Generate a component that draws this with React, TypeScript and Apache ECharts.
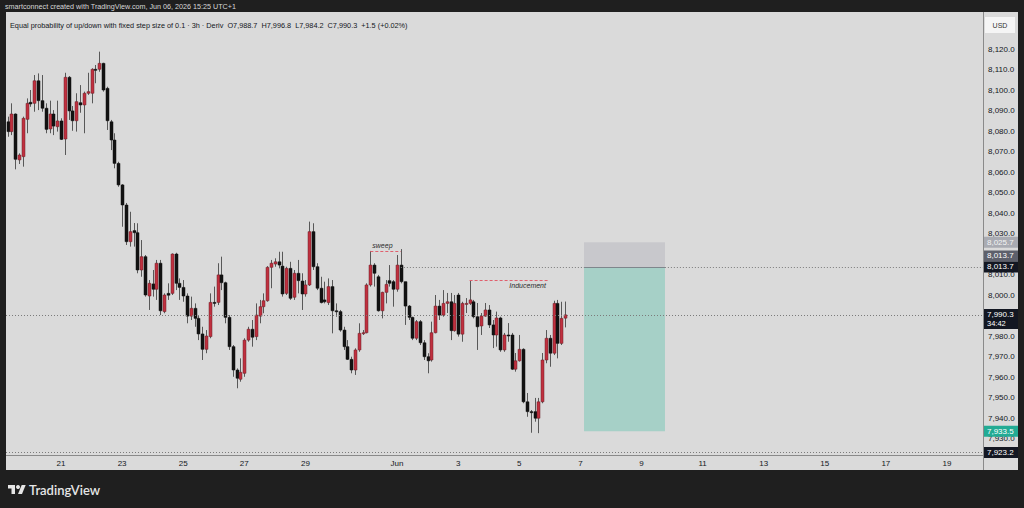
import React, { useEffect, useRef } from "react";
import * as echarts from "echarts";

// ---- data ----
// 3h bars of "Equal probability of up/down with fixed step size of 0.1" (Deriv)
// time in day units of May (Jun 1 = 32); first visible bar = May 19, 3rd bar
const FIRST_BAR_DAY = 19.25;
const BAR_STEP_DAYS = 0.125;

const opens = [
  8084.5, 8079.7, 8088.3, 8065.9, 8067.5, 8085.7, 8094.0, 8093.5, 8104.5, 8094.8,
  8091.1, 8081.0, 8088.3, 8082.1, 8084.9, 8076.1, 8106.2, 8089.8, 8085.0, 8093.8,
  8092.7, 8098.4, 8098.4, 8110.1, 8110.1, 8113.0, 8100.8, 8084.5, 8075.6, 8064.2,
  8053.7, 8043.9, 8026.0, 8031.4, 8030.4, 8012.2, 8018.7, 7999.5, 8005.4, 8002.8,
  8015.5, 7991.9, 8000.8, 8000.8, 8020.0, 8005.7, 8003.7, 7999.5, 7989.7, 7993.5,
  7988.6, 7981.0, 7973.5, 7979.7, 7996.4, 7996.4, 8009.8, 8006.0, 7989.1, 7974.8,
  7963.4, 7958.9, 7961.8, 7978.0, 7983.3, 7979.7, 7989.7, 7994.3, 7997.2, 8013.5,
  8015.1, 8016.2, 8014.1, 8000.8, 8013.0, 7998.9, 8010.6, 8006.8, 8000.5, 8004.9,
  8030.9, 8013.8, 8003.3, 7997.6, 7996.3, 8004.1, 7992.3, 7991.9, 7982.9, 7974.8,
  7968.6, 7963.4, 7973.2, 7981.3, 7981.6, 8004.9, 8014.6, 8008.9, 7992.3, 8001.3,
  8007.0, 8006.5, 8002.8, 8014.6, 8006.5, 7994.6, 7989.1, 7978.9, 7987.0, 7976.7,
  7969.9, 7968.3, 7981.6, 7994.6, 7990.2, 7995.9, 7996.7, 7982.6, 8000.0, 7980.9,
  7995.5, 7995.9, 7996.7, 7989.4, 7984.9, 7989.7, 7992.7, 7985.4, 7980.5, 7988.8,
  7973.2, 7980.5, 7980.5, 7963.8, 7967.9, 7973.5, 7947.9, 7943.1, 7943.1, 7939.9,
  7947.9, 7968.3, 7978.9, 7971.6, 7995.9, 7976.4, 7988.7,
];
const closes = [
  8079.7, 8088.3, 8066.2, 8068.3, 8086.2, 8093.5, 8093.2, 8104.5, 8094.8, 8091.1,
  8080.8, 8088.3, 8082.4, 8084.9, 8075.9, 8106.2, 8089.8, 8085.0, 8094.3, 8092.7,
  8098.4, 8099.2, 8110.1, 8109.6, 8113.0, 8100.0, 8085.0, 8075.6, 8064.2, 8053.7,
  8043.9, 8026.0, 8030.9, 8030.4, 8012.2, 8018.7, 8000.0, 8005.7, 8002.8, 8015.5,
  7992.3, 8000.0, 7999.9, 8020.0, 8005.7, 8003.7, 7999.5, 7989.7, 7993.5, 7988.6,
  7981.0, 7973.5, 7980.0, 7996.4, 7995.9, 8009.8, 8006.0, 7989.1, 7974.8, 7963.4,
  7959.4, 7962.3, 7978.0, 7983.3, 7979.4, 7990.2, 7994.3, 7997.2, 8013.5, 8015.5,
  8016.2, 8014.6, 8000.5, 8013.0, 7998.4, 8010.6, 8007.0, 8000.5, 8004.9, 8030.9,
  8013.8, 8003.3, 7996.3, 7996.7, 8004.1, 7992.3, 7991.9, 7982.9, 7974.8, 7968.6,
  7963.4, 7973.2, 7981.3, 7981.6, 8004.9, 8014.6, 8010.6, 7992.3, 8001.3, 8005.2,
  8005.7, 8002.8, 8014.6, 8006.5, 7994.6, 7989.1, 7978.9, 7987.0, 7976.7, 7969.9,
  7967.9, 7981.6, 7994.6, 7990.2, 7995.9, 7996.7, 7982.6, 7995.9, 7980.9, 7995.9,
  7995.9, 7997.6, 7989.4, 7984.5, 7989.7, 7992.7, 7985.4, 7980.5, 7988.8, 7973.2,
  7980.5, 7980.0, 7963.8, 7967.9, 7973.5, 7947.9, 7943.1, 7942.6, 7939.9, 7947.9,
  7968.3, 7978.9, 7971.6, 7995.9, 7976.4, 7988.6, 7990.3,
];
const lows = [
  8077.2, 8078.0, 8061.3, 8063.9, 8062.6, 8078.9, 8091.8, 8089.4, 8090.2, 8089.4,
  8078.9, 8078.9, 8078.0, 8079.7, 8075.6, 8068.3, 8085.4, 8080.1, 8079.7, 8088.9,
  8078.9, 8097.6, 8093.5, 8103.3, 8108.9, 8099.2, 8080.5, 8070.7, 8061.8, 8052.8,
  8033.3, 8024.4, 8023.6, 8023.6, 8010.6, 8008.9, 7999.2, 7992.7, 7999.2, 7997.6,
  7990.2, 7991.1, 7997.6, 8000.0, 8002.4, 7997.6, 7996.7, 7986.2, 7987.8, 7984.5,
  7978.0, 7968.3, 7971.6, 7978.9, 7994.3, 7995.1, 8002.4, 7986.2, 7973.2, 7960.1,
  7954.5, 7957.7, 7960.1, 7977.2, 7974.8, 7978.0, 7986.2, 7991.1, 7996.7, 8003.3,
  8013.8, 8013.0, 7999.2, 8000.0, 7997.6, 7997.6, 8000.8, 7992.7, 7999.2, 8004.4,
  8012.2, 8002.4, 7995.9, 7995.9, 7995.1, 7981.3, 7989.4, 7982.1, 7973.2, 7968.3,
  7961.8, 7961.0, 7972.3, 7980.5, 7981.3, 8004.1, 8004.1, 7991.9, 7988.6, 7995.9,
  8004.1, 7994.3, 8001.6, 8005.7, 7985.4, 7987.8, 7978.0, 7978.0, 7975.6, 7968.3,
  7961.8, 7967.5, 7981.3, 7987.8, 7989.4, 7991.2, 7978.0, 7982.1, 7979.7, 7977.2,
  7991.2, 7995.1, 7988.6, 7973.2, 7980.5, 7989.4, 7983.9, 7974.1, 7974.8, 7972.3,
  7972.3, 7977.2, 7963.4, 7962.6, 7967.5, 7947.2, 7940.6, 7932.8, 7938.2, 7932.6,
  7947.2, 7966.7, 7965.0, 7970.7, 7969.1, 7975.6, 7984.2,
];
const highs = [
  8087.0, 8093.5, 8088.6, 8069.1, 8087.0, 8095.9, 8100.0, 8107.3, 8108.1, 8107.3,
  8093.5, 8094.8, 8090.2, 8094.8, 8086.2, 8108.4, 8106.8, 8092.2, 8098.4, 8102.4,
  8099.2, 8108.4, 8110.6, 8112.2, 8118.7, 8113.3, 8101.6, 8085.4, 8078.9, 8065.0,
  8054.1, 8044.9, 8040.6, 8035.1, 8035.0, 8026.8, 8019.5, 8007.3, 8012.2, 8017.1,
  8017.1, 8000.8, 8005.7, 8020.3, 8020.6, 8008.1, 8007.3, 8000.8, 7999.2, 7995.9,
  7990.2, 7984.5, 7982.9, 8000.8, 8004.1, 8015.5, 8018.7, 8006.5, 7990.2, 7975.6,
  7964.2, 7969.1, 7978.9, 7984.5, 7987.8, 7995.9, 7997.6, 8000.8, 8014.1, 8017.1,
  8017.9, 8021.1, 8021.1, 8013.8, 8016.2, 8012.2, 8017.1, 8010.6, 8007.3, 8035.8,
  8035.0, 8015.5, 8008.9, 8006.5, 8008.1, 8007.3, 7995.9, 7992.7, 7984.5, 7978.0,
  7969.9, 7974.0, 7986.2, 7982.9, 8005.7, 8021.5, 8015.5, 8009.8, 8001.6, 8007.3,
  8014.6, 8007.3, 8019.5, 8022.4, 8006.5, 7995.1, 7989.4, 7987.8, 7987.8, 7978.0,
  7971.6, 7987.0, 8000.0, 7997.6, 8002.4, 8001.0, 8001.0, 8000.0, 8001.0, 7996.7,
  7998.5, 8007.3, 7997.6, 7996.1, 7991.2, 7996.1, 7995.1, 7987.8, 7991.9, 7989.4,
  7981.5, 7986.3, 7981.5, 7971.7, 7980.5, 7974.0, 7952.2, 7943.9, 7949.8, 7949.8,
  7971.7, 7982.9, 7980.5, 7997.2, 7997.6, 7996.7, 7996.8,
];

// date axis labels (day units of May; Jun 1 = 32)
const dayTicks = [21, 23, 25, 27, 29, 32, 34, 36, 38, 40, 42, 44, 46, 48, 50];
const dayLabels = ["21", "23", "25", "27", "29", "Jun", "3", "5", "7", "9", "11", "13", "15", "17", "19"];

// annotation levels
const LAST_PRICE = 7990.3;
const LEVEL_PRICE = 8013.7;
const LOW_LEVEL = 7923.2;
const SWEEP_FROM_BAR = 96;
const SWEEP_TO_BAR = 104;
const SWEEP_PRICE = 8021.5;
const IND_FROM_BAR = 122;
const IND_TO_DAY = 36.94;
const IND_PRICE = 8007.3;
const POS_FROM_DAY = 38.12;
const POS_TO_DAY = 40.77;
const POS_ENTRY = 8013.7;
const POS_STOP = 8025.7;
const POS_TARGET = 7933.5;

const LEGEND_TEXT =
  "Equal probability of up/down with fixed step size of 0.1 · 3h · Deriv  O7,988.7  H7,996.8  L7,984.2  C7,990.3  +1.5 (+0.02%)";
const HEADER_TEXT = "smartconnect created with TradingView.com, Jun 06, 2026 15:25 UTC+1";

// ---- styling ----
const FONT = '"Liberation Sans", Arial, sans-serif';
const PANEL = "#dadada";
const DARK = "#1f1f1f";
const UP = "#c0303f";
const UP_EDGE = "#6a2129";
const DOWN = "#121212";
const WICK = "#585858";
const TEXT = "#131722";
const RED_DASH = "#e0606e";

const barTime = (n: number) => FIRST_BAR_DAY + (n - 1) * BAR_STEP_DAYS;
const fmt = (v: number) =>
  v.toLocaleString("en-US", { minimumFractionDigits: 1, maximumFractionDigits: 1 });

export default function App() {
  const ref = useRef<HTMLDivElement>(null);

  useEffect(() => {
    if (!ref.current) return;
    const chart = echarts.init(ref.current, null, { renderer: "svg" });

    const rows = opens.map((o, i) => [barTime(i + 1), o, closes[i], lows[i], highs[i]]);

    const option: any = {
      animation: false,
      backgroundColor: PANEL,
      textStyle: { fontFamily: FONT },
      grid: { left: 6, right: 41, top: 8, bottom: 49, containLabel: false },
      xAxis: {
        type: "value",
        min: 19.2,
        max: 51.18,
        axisLine: { show: false },
        axisTick: { show: false },
        splitLine: { show: false },
        axisLabel: {
          customValues: dayTicks,
          formatter: (v: number) => {
            const i = dayTicks.indexOf(Math.round(v));
            return i >= 0 ? dayLabels[i] : "";
          },
          color: TEXT,
          fontSize: 8,
          fontFamily: FONT,
          margin: 0,
        },
      },
      yAxis: {
        type: "value",
        position: "right",
        min: 7920,
        max: 8140,
        interval: 10,
        axisLine: { show: false },
        axisTick: { show: false },
        splitLine: { show: false },
        axisLabel: {
          formatter: (v: number) => (v <= 7920 || v >= 8130 ? "" : fmt(v)),
          color: TEXT,
          fontSize: 8,
          fontFamily: FONT,
          margin: 5,
        },
      },
      series: [
        {
          type: "custom",
          dimensions: ["time", "open", "close", "low", "high"],
          encode: { x: 0, y: [1, 2, 3, 4] },
          data: rows,
          renderItem: (_p: any, api: any) => {
            const t = api.value(0);
            const o = api.value(1);
            const c = api.value(2);
            const l = api.value(3);
            const h = api.value(4);
            const po = api.coord([t, o]);
            const pc = api.coord([t, c]);
            const pl = api.coord([t, l]);
            const ph = api.coord([t, h]);
            const x = Math.round(po[0]) + 0.5;
            const up = c >= o;
            const top = Math.min(po[1], pc[1]);
            const hh = Math.max(1, Math.abs(po[1] - pc[1]));
            return {
              type: "group",
              children: [
                { type: "line", shape: { x1: x, y1: ph[1], x2: x, y2: pl[1] }, style: { stroke: WICK, lineWidth: 1 } },
                {
                  type: "rect",
                  shape: { x: x - 1.5, y: top, width: 3, height: hh },
                  style: { fill: up ? UP : DOWN, stroke: up ? UP_EDGE : DOWN, lineWidth: 0.5 },
                },
              ],
            };
          },
          markArea: {
            silent: true,
            data: [
              [
                { coord: [POS_FROM_DAY, POS_ENTRY], itemStyle: { color: "#a6d0c7" } },
                { coord: [POS_TO_DAY, POS_TARGET] },
              ],
              [
                { coord: [POS_FROM_DAY, POS_STOP], itemStyle: { color: "#c8c8cc" } },
                { coord: [POS_TO_DAY, POS_ENTRY] },
              ],
            ],
          },
          markLine: {
            silent: true,
            symbol: ["none", "none"],
            label: { show: false },
            data: [
              { yAxis: LAST_PRICE, lineStyle: { color: "#7b7b7b", type: [1, 2], width: 1 } },
              { yAxis: LOW_LEVEL, lineStyle: { color: "#7b7b7b", type: [1, 2], width: 1 } },
              [
                { coord: [barTime(SWEEP_TO_BAR), LEVEL_PRICE], lineStyle: { color: "#7b7b7b", type: [1, 2], width: 1 } },
                { coord: [51.18, LEVEL_PRICE] },
              ],
              [
                { coord: [POS_FROM_DAY, POS_ENTRY], lineStyle: { color: "#7f868c", type: "solid", width: 1 } },
                { coord: [POS_TO_DAY, POS_ENTRY] },
              ],
              [
                {
                  coord: [barTime(SWEEP_FROM_BAR), SWEEP_PRICE],
                  lineStyle: { color: RED_DASH, type: [3, 2], width: 1 },
                  label: {
                    show: true,
                    formatter: "sweep",
                    position: "insideStartTop",
                    color: "#2a2a2a",
                    fontSize: 7,
                    fontStyle: "italic",
                    fontFamily: FONT,
                    distance: 2,
                  },
                },
                { coord: [barTime(SWEEP_TO_BAR), SWEEP_PRICE] },
              ],
              [
                {
                  coord: [barTime(IND_FROM_BAR), IND_PRICE],
                  lineStyle: { color: RED_DASH, type: [3, 2], width: 1 },
                  label: {
                    show: true,
                    formatter: "Inducement",
                    position: "insideEndBottom",
                    color: "#2a2a2a",
                    fontSize: 7,
                    fontStyle: "italic",
                    fontFamily: FONT,
                    distance: 2,
                  },
                },
                { coord: [IND_TO_DAY, IND_PRICE] },
              ],
            ],
          },
        },
      ],
    };
    chart.setOption(option);

    const py = (v: number) => chart.convertToPixel({ yAxisIndex: 0 }, v) as number;
    const Z = 100;
    const badge = (y: number, text: string, bg: string, fg: string, h = 11) => [
      { type: "rect", z: Z + 1, shape: { x: 984, y: y - 5.5, width: 34, height: h }, style: { fill: bg } },
      {
        type: "text",
        z: Z + 2,
        x: 987,
        y: y,
        style: { text, fill: fg, fontSize: 8, fontFamily: FONT, align: "left", verticalAlign: "middle" },
      },
    ];

    const graphics: any[] = [
      { type: "rect", z: Z, shape: { x: 0, y: 0, width: 1024, height: 12 }, style: { fill: DARK } },
      { type: "rect", z: Z, shape: { x: 0, y: 0, width: 6, height: 508 }, style: { fill: DARK } },
      { type: "rect", z: Z, shape: { x: 1018, y: 0, width: 6, height: 508 }, style: { fill: DARK } },
      { type: "rect", z: Z, shape: { x: 0, y: 470, width: 1024, height: 38 }, style: { fill: DARK } },
      { type: "line", z: Z, shape: { x1: 983.5, y1: 12, x2: 983.5, y2: 470 }, style: { stroke: "#8a8a8a", lineWidth: 1 } },
      { type: "line", z: Z, shape: { x1: 6, y1: 455.5, x2: 1018, y2: 455.5 }, style: { stroke: "#8a8a8a", lineWidth: 1 } },
      {
        type: "text",
        z: Z,
        x: 5,
        y: 6,
        style: { text: HEADER_TEXT, fill: "#d8d8d8", fontSize: 7.2, fontFamily: FONT, verticalAlign: "middle" },
      },
      {
        type: "text",
        z: Z,
        x: 10,
        y: 25,
        style: { text: LEGEND_TEXT, fill: TEXT, fontSize: 7.3, fontFamily: FONT, verticalAlign: "middle" },
      },
      { type: "rect", z: Z, shape: { x: 985, y: 17, width: 30, height: 16 }, style: { fill: "#f5f5f5" } },
      {
        type: "text",
        z: Z + 1,
        x: 1000,
        y: 25,
        style: { text: "USD", fill: "#333", fontSize: 7, fontFamily: FONT, align: "center", verticalAlign: "middle" },
      },
      ...badge(py(POS_STOP), fmt(POS_STOP), "#a9abb2", "#f4f4f4"),
      ...badge(py(POS_ENTRY) - 11, fmt(POS_ENTRY), "#5d606b", "#ffffff"),
      ...badge(py(LEVEL_PRICE), fmt(LEVEL_PRICE), "#131722", "#ffffff"),
      { type: "rect", z: Z + 1, shape: { x: 984, y: py(LAST_PRICE) - 6, width: 34, height: 20 }, style: { fill: "#131722" } },
      {
        type: "text",
        z: Z + 2,
        x: 987,
        y: py(LAST_PRICE),
        style: { text: fmt(LAST_PRICE), fill: "#fff", fontSize: 8, fontFamily: FONT, verticalAlign: "middle" },
      },
      {
        type: "text",
        z: Z + 2,
        x: 987,
        y: py(LAST_PRICE) + 9,
        style: { text: "34:42", fill: "#fff", fontSize: 7.5, fontFamily: FONT, verticalAlign: "middle" },
      },
      ...badge(py(POS_TARGET), fmt(POS_TARGET), "#22ab94", "#ffffff"),
      ...badge(py(LOW_LEVEL), fmt(LOW_LEVEL), "#131722", "#ffffff"),
      // TradingView logo
      { type: "rect", z: Z + 1, shape: { x: 8, y: 485, width: 7, height: 3.5 }, style: { fill: "#e6e6e6" } },
      { type: "rect", z: Z + 1, shape: { x: 11.5, y: 485, width: 3.5, height: 9 }, style: { fill: "#e6e6e6" } },
      { type: "circle", z: Z + 1, shape: { cx: 18, cy: 487, r: 2 }, style: { fill: "#e6e6e6" } },
      {
        type: "polygon",
        z: Z + 1,
        shape: { points: [[21.7, 485], [25.7, 485], [22, 494], [18, 494]] },
        style: { fill: "#e6e6e6" },
      },
      {
        type: "text",
        z: Z + 1,
        x: 29,
        y: 490,
        style: {
          text: "TradingView",
          fill: "#e6e6e6",
          fontSize: 13,
          fontWeight: 600,
          fontFamily: "Lato, " + FONT,
          verticalAlign: "middle",
        },
      },
    ];
    chart.setOption({ graphic: graphics });

    return () => chart.dispose();
  }, []);

  return <div ref={ref} style={{ position: "fixed", left: 0, top: 0, width: 1024, height: 508 }} />;
}
